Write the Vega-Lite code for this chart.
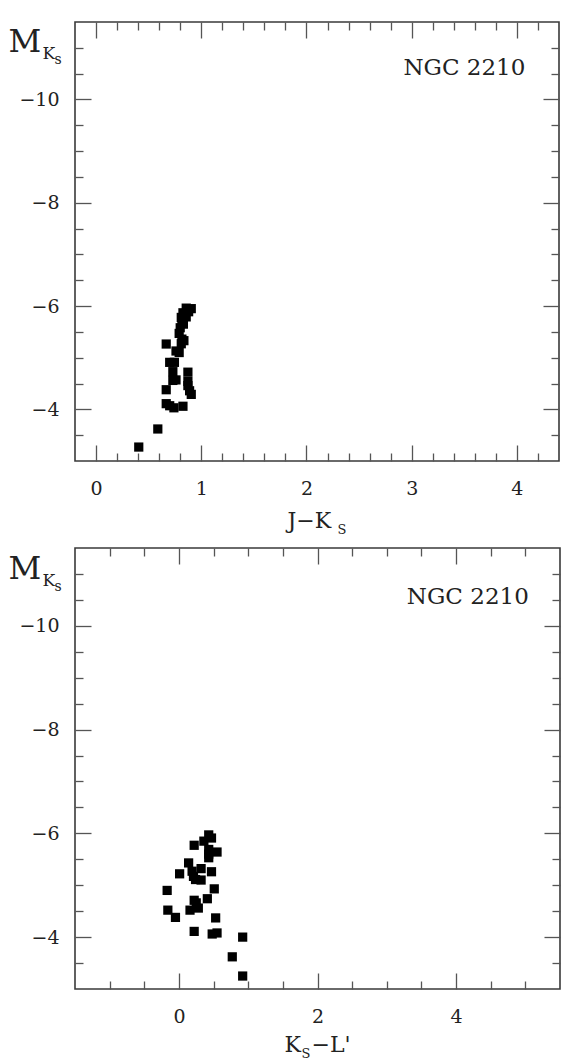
{
  "$schema": "https://vega.github.io/schema/vega-lite/v6.json",
  "padding": {"left": 7, "top": 20, "right": 5, "bottom": 5},
  "background": "white",
  "datasets": {
    "jk": [
      {"jk": 0.857, "mk": -5.96}, {"jk": 0.905, "mk": -5.95}, {"jk": 0.826, "mk": -5.87}, {"jk": 0.88, "mk": -5.89},
      {"jk": 0.81, "mk": -5.78}, {"jk": 0.857, "mk": -5.79}, {"jk": 0.816, "mk": -5.68}, {"jk": 0.80, "mk": -5.58},
      {"jk": 0.83, "mk": -5.65}, {"jk": 0.79, "mk": -5.47}, {"jk": 0.816, "mk": -5.36}, {"jk": 0.835, "mk": -5.33},
      {"jk": 0.81, "mk": -5.27}, {"jk": 0.667, "mk": -5.265}, {"jk": 0.76, "mk": -5.13}, {"jk": 0.79, "mk": -5.10},
      {"jk": 0.70, "mk": -4.91}, {"jk": 0.745, "mk": -4.91}, {"jk": 0.73, "mk": -4.73}, {"jk": 0.873, "mk": -4.72},
      {"jk": 0.73, "mk": -4.56}, {"jk": 0.76, "mk": -4.57}, {"jk": 0.873, "mk": -4.54}, {"jk": 0.873, "mk": -4.46},
      {"jk": 0.667, "mk": -4.38}, {"jk": 0.889, "mk": -4.36}, {"jk": 0.905, "mk": -4.29}, {"jk": 0.667, "mk": -4.11},
      {"jk": 0.70, "mk": -4.07}, {"jk": 0.74, "mk": -4.03}, {"jk": 0.826, "mk": -4.06}, {"jk": 0.587, "mk": -3.62},
      {"jk": 0.406, "mk": -3.27}
    ],
    "kl": [
      {"kl": 0.43, "mk": -5.97}, {"kl": 0.47, "mk": -5.91}, {"kl": 0.36, "mk": -5.85}, {"kl": 0.22, "mk": -5.77},
      {"kl": 0.43, "mk": -5.69}, {"kl": 0.55, "mk": -5.64}, {"kl": 0.43, "mk": -5.60}, {"kl": 0.43, "mk": -5.53},
      {"kl": 0.14, "mk": -5.43}, {"kl": 0.32, "mk": -5.32}, {"kl": 0.01, "mk": -5.22}, {"kl": 0.19, "mk": -5.27},
      {"kl": 0.21, "mk": -5.17}, {"kl": 0.24, "mk": -5.11}, {"kl": 0.32, "mk": -5.10}, {"kl": 0.47, "mk": -5.26},
      {"kl": -0.17, "mk": -4.90}, {"kl": 0.51, "mk": -4.93}, {"kl": 0.22, "mk": -4.71}, {"kl": 0.25, "mk": -4.66},
      {"kl": 0.41, "mk": -4.74}, {"kl": -0.16, "mk": -4.52}, {"kl": -0.05, "mk": -4.38}, {"kl": 0.16, "mk": -4.52},
      {"kl": 0.28, "mk": -4.56}, {"kl": 0.53, "mk": -4.37}, {"kl": 0.22, "mk": -4.11}, {"kl": 0.48, "mk": -4.06},
      {"kl": 0.55, "mk": -4.08}, {"kl": 0.92, "mk": -4.0}, {"kl": 0.77, "mk": -3.62}, {"kl": 0.92, "mk": -3.25}
    ],
    "lab": [{"name": "NGC 2210"}]
  },
  "config": {
    "view": {"stroke": "#3a3a3a", "strokeWidth": 1.6},
    "axis": {
      "domain": false, "grid": false, "labelFont": "DejaVu Serif", "titleFont": "DejaVu Serif",
      "labelColor": "#222", "titleColor": "#222", "tickColor": "#555", "tickWidth": 1.3,
      "titleFontWeight": "normal", "labelFontSize": 19, "labelFlush": false, "labelOverlap": false,
      "labelBound": false, "titleAngle": 0, "titleAlign": "left", "titleBaseline": "alphabetic"
    },
    "text": {"font": "DejaVu Serif"}
  },
  "spacing": 87,
  "bounds": "flush",
  "vconcat": [
    {
      "width": 484, "height": 439,
      "layer": [
        {
          "data": {"name": "jk"},
          "mark": {"type": "point", "shape": "square", "filled": true, "color": "black", "opacity": 1, "size": 85},
          "encoding": {
            "x": {"field": "jk", "type": "quantitative", "scale": {"domain": [-0.2, 4.4], "nice": false, "zero": false},
              "axis": {"orient": "bottom", "values": [0, 1, 2, 3, 4], "tickSize": -16, "labelPadding": 34,
                "title": "J−K", "titleFontSize": 22, "titleX": 212, "titleY": 66}},
            "y": {"field": "mk", "type": "quantitative", "scale": {"domain": [-11.5, -3], "nice": false, "zero": false, "reverse": true},
              "axis": {"orient": "left", "values": [-10, -8, -6, -4], "tickSize": -16, "labelPadding": 32,
                "title": "M", "titleFontSize": 32, "titleX": -67, "titleY": 29}}
          }
        },
        {
          "data": {"name": "jk"},
          "mark": {"type": "point", "opacity": 0},
          "encoding": {
            "x": {"field": "jk", "type": "quantitative",
              "axis": {"orient": "bottom", "values": [0.2, 0.4, 0.6, 0.8, 1.2, 1.4, 1.6, 1.8, 2.2, 2.4, 2.6, 2.8, 3.2, 3.4, 3.6, 3.8, 4.2], "tickSize": -8, "labels": false,
                "title": "S", "titleFontSize": 13, "titleX": 262, "titleY": 72}},
            "y": {"field": "mk", "type": "quantitative",
              "axis": {"orient": "left", "values": [-11, -10.5, -9.5, -9, -8.5, -7.5, -7, -6.5, -5.5, -5, -4.5, -3.5], "tickSize": -8, "labels": false,
                "title": "K", "titleFontSize": 17, "titleX": -33, "titleY": 36}}
          }
        },
        {
          "data": {"name": "jk"},
          "mark": {"type": "point", "opacity": 0},
          "encoding": {
            "x": {"field": "jk", "type": "quantitative",
              "axis": {"orient": "top", "values": [0, 1, 2, 3, 4], "tickSize": -16, "labels": false, "title": null}},
            "y": {"field": "mk", "type": "quantitative",
              "axis": {"orient": "right", "values": [-10, -8, -6, -4], "tickSize": -16, "labels": false,
                "title": "s", "titleFontSize": 14, "titleX": -505, "titleY": 41}}
          }
        },
        {
          "data": {"name": "jk"},
          "mark": {"type": "point", "opacity": 0},
          "encoding": {
            "x": {"field": "jk", "type": "quantitative",
              "axis": {"orient": "top", "values": [0.2, 0.4, 0.6, 0.8, 1.2, 1.4, 1.6, 1.8, 2.2, 2.4, 2.6, 2.8, 3.2, 3.4, 3.6, 3.8, 4.2], "tickSize": -8, "labels": false, "title": null}},
            "y": {"field": "mk", "type": "quantitative",
              "axis": {"orient": "right", "values": [-11, -10.5, -9.5, -9, -8.5, -7.5, -7, -6.5, -5.5, -5, -4.5, -3.5], "tickSize": -8, "labels": false, "title": null}}
          }
        },
        {
          "data": {"name": "lab"},
          "mark": {"type": "text", "fontSize": 23, "align": "right", "baseline": "middle", "color": "#222"},
          "encoding": {
            "x": {"datum": 4.08, "type": "quantitative", "axis": null},
            "y": {"datum": -10.6, "type": "quantitative", "axis": null},
            "text": {"field": "name"}
          }
        }
      ],
      "resolve": {"axis": {"x": "independent", "y": "independent"}}
    },
    {
      "width": 485, "height": 441,
      "layer": [
        {
          "data": {"name": "kl"},
          "mark": {"type": "point", "shape": "square", "filled": true, "color": "black", "opacity": 1, "size": 85},
          "encoding": {
            "x": {"field": "kl", "type": "quantitative", "scale": {"domain": [-1.5, 5.5], "nice": false, "zero": false},
              "axis": {"orient": "bottom", "values": [0, 2, 4], "tickSize": -16, "labelPadding": 34,
                "title": "K", "titleFontSize": 22, "titleX": 209, "titleY": 62}},
            "y": {"field": "mk", "type": "quantitative", "scale": {"domain": [-11.5, -3], "nice": false, "zero": false, "reverse": true},
              "axis": {"orient": "left", "values": [-10, -8, -6, -4], "tickSize": -16, "labelPadding": 32,
                "title": "M", "titleFontSize": 32, "titleX": -67, "titleY": 30}}
          }
        },
        {
          "data": {"name": "kl"},
          "mark": {"type": "point", "opacity": 0},
          "encoding": {
            "x": {"field": "kl", "type": "quantitative",
              "axis": {"orient": "bottom", "values": [-1, -0.5, 0.5, 1, 1.5, 2.5, 3, 3.5, 4.5, 5], "tickSize": -8, "labels": false,
                "title": "S", "titleFontSize": 13, "titleX": 226, "titleY": 68}},
            "y": {"field": "mk", "type": "quantitative",
              "axis": {"orient": "left", "values": [-11, -10.5, -9.5, -9, -8.5, -7.5, -7, -6.5, -5.5, -5, -4.5, -3.5], "tickSize": -8, "labels": false,
                "title": "K", "titleFontSize": 17, "titleX": -33, "titleY": 37}}
          }
        },
        {
          "data": {"name": "kl"},
          "mark": {"type": "point", "opacity": 0},
          "encoding": {
            "x": {"field": "kl", "type": "quantitative",
              "axis": {"orient": "top", "values": [0, 2, 4], "tickSize": -16, "labels": false,
                "title": "−L'", "titleFontSize": 22, "titleX": 236, "titleY": 503}},
            "y": {"field": "mk", "type": "quantitative",
              "axis": {"orient": "right", "values": [-10, -8, -6, -4], "tickSize": -16, "labels": false,
                "title": "s", "titleFontSize": 14, "titleX": -506, "titleY": 42}}
          }
        },
        {
          "data": {"name": "kl"},
          "mark": {"type": "point", "opacity": 0},
          "encoding": {
            "x": {"field": "kl", "type": "quantitative",
              "axis": {"orient": "top", "values": [-1, -0.5, 0.5, 1, 1.5, 2.5, 3, 3.5, 4.5, 5], "tickSize": -8, "labels": false, "title": null}},
            "y": {"field": "mk", "type": "quantitative",
              "axis": {"orient": "right", "values": [-11, -10.5, -9.5, -9, -8.5, -7.5, -7, -6.5, -5.5, -5, -4.5, -3.5], "tickSize": -8, "labels": false, "title": null}}
          }
        },
        {
          "data": {"name": "lab"},
          "mark": {"type": "text", "fontSize": 23, "align": "right", "baseline": "middle", "color": "#222"},
          "encoding": {
            "x": {"datum": 5.05, "type": "quantitative", "axis": null},
            "y": {"datum": -10.55, "type": "quantitative", "axis": null},
            "text": {"field": "name"}
          }
        }
      ],
      "resolve": {"axis": {"x": "independent", "y": "independent"}}
    }
  ]
}
